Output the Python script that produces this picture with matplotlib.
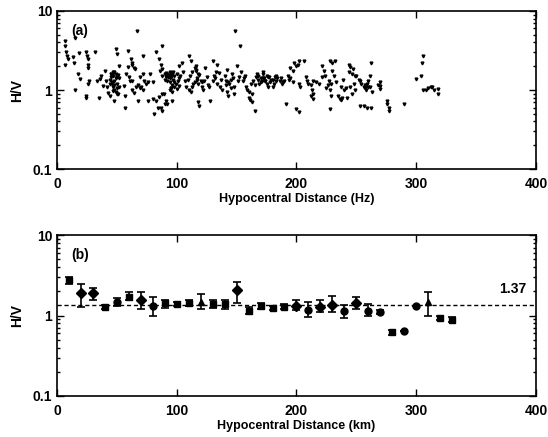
import numpy as np
import matplotlib
matplotlib.use("Agg")
import matplotlib.pyplot as plt
from matplotlib.ticker import FixedLocator, FixedFormatter, LogLocator, NullFormatter

# (a) individual H/V ratios vs hypocentral distance
dist_a = [6.6, 6.6, 7.5, 8, 7, 9, 15, 13.6, 14, 18.5, 15, 19, 17.7, 24.6, 25, 26, 26, 26,
          24, 24, 26, 27, 31.5, 33, 35, 35.7, 37, 38.5, 40, 41, 42, 44, 45, 47,
          45, 46, 47, 48, 49, 50, 51, 52, 46, 47, 48, 49, 50, 44, 43, 48, 50, 52,
          49.5, 50, 52, 48, 56, 57, 57, 59, 59, 58, 61, 60, 62, 63, 63, 64, 65, 63,
          63, 64, 66, 68, 69, 70, 72, 67, 71.6, 69, 72, 67.5, 73, 74, 76, 76, 78,
          80, 80, 81, 83, 84, 85.5, 88, 87, 87.5, 88, 83, 85.5, 87, 88, 86, 88,
          90, 91, 92, 94, 91, 94, 95, 96, 92, 90, 91, 90, 94, 95, 96, 98, 99, 101,
          102, 100, 102, 104, 105, 103, 102, 100, 93, 95, 97, 98, 96, 92, 89,
          107, 108, 110, 112, 114, 109, 111, 113, 115, 116, 117, 118, 118, 119,
          120, 121, 122, 110, 112, 116, 118, 121, 123, 125, 126, 128, 124, 127,
          130, 131, 133, 134, 136, 132, 135, 137, 138, 130, 134, 140, 141, 142,
          144, 145, 143, 146, 147, 148, 150, 151, 149, 152, 148, 153, 154, 155,
          156, 158, 157, 159, 160, 161, 162, 160, 163, 164, 165, 166, 167, 168,
          169, 170, 171, 165, 168, 172, 173, 174, 175, 176, 177, 178, 179, 175,
          172, 163,
          180, 181, 182, 183, 184, 180, 183, 190, 193, 194, 195, 197, 195, 197,
          198, 200, 201, 202, 206, 202, 203, 200, 202, 191, 208, 209, 210, 212,
          213, 214, 212, 214, 214, 216, 219, 221, 221, 223, 224, 227, 228, 229,
          228, 230, 232, 230, 231, 228, 235, 236, 237, 238, 237, 240, 241, 242,
          244, 245, 247, 244, 246, 249, 245, 246, 249, 248, 250, 252, 253, 254,
          256, 257, 258, 260, 260, 261, 262, 253, 256, 259, 262, 270, 270, 270,
          276, 276, 277, 277, 290, 300, 304, 305, 306, 306, 308, 310, 312, 313,
          315, 318, 318,
          # extra points in the dense clusters
          44, 46, 48, 50, 47, 49, 45, 51, 93, 95, 97, 94, 96, 92, 98, 95,
          115, 117, 119, 113, 116, 141, 143, 145, 142, 170, 172, 174, 176,
          186, 188, 187, 189, 226, 229, 225, 257, 259, 261, 263, 268, 233, 239]
hv_a = [4.2, 3.6, 3.0, 2.7, 2.1, 2.5, 4.5, 2.6, 2.2, 2.9, 1.0, 1.38, 1.6, 3.0, 2.7, 2.5, 2.1, 1.9,
        0.85, 0.79, 1.19, 1.31, 3.0, 1.3, 0.8, 1.38, 1.52, 1.13, 1.75, 1.3, 1.08, 1.19, 1.45, 1.67,
        1.6, 1.55, 1.5, 1.7, 1.6, 1.45, 1.55, 1.4, 1.2, 1.1, 1.0, 0.95, 0.9, 0.85, 0.92, 1.3, 1.2, 1.1,
        3.3, 2.85, 2.0, 0.73, 1.13, 0.85, 0.6, 3.1, 1.93, 1.6, 1.31, 1.45, 2.5, 2.2, 2.1, 1.9, 1.85, 1.31,
        1.0, 0.93, 1.1, 1.15, 1.05, 1.1, 1.0, 5.6, 2.7, 1.45, 1.6, 0.73, 1.3, 1.2, 1.25, 0.73, 1.6,
        1.25, 0.77, 0.5, 0.73, 0.6, 0.81, 0.89, 0.6, 0.55, 3.6, 3.0, 2.5, 2.1, 1.85, 1.75, 1.5,
        1.6, 1.65, 1.55, 1.7, 1.45, 1.4, 1.5, 1.6, 1.3, 1.35, 0.73, 0.67, 1.0, 1.05, 0.95, 1.1, 1.2, 1.3,
        1.13, 1.03, 2.0, 2.2, 1.67, 1.5, 1.4, 1.6, 1.55, 1.45, 1.7, 1.25, 0.73, 0.67, 0.9,
        1.3, 1.1, 1.0, 0.95, 1.2, 1.35, 1.5, 1.7, 1.9, 2.0, 1.4, 1.2, 0.7, 0.62,
        1.3, 1.1, 1.0, 2.7, 2.3, 1.8, 1.6, 1.25, 1.3, 1.45, 1.15, 0.72, 1.9, 1.1,
        1.3, 1.5, 1.7, 1.2, 1.1, 1.4, 1.65, 1.35, 1.0, 2.3, 2.1, 1.5, 1.3, 1.8,
        1.2, 1.05, 0.85, 1.6, 1.4, 1.1, 2.0, 1.3, 5.5, 1.45, 0.9, 3.6, 1.7, 1.3,
        1.4, 1.1, 1.5, 1.0, 0.95, 0.75, 1.2, 0.8, 0.7, 1.3, 0.55, 1.45, 1.6, 1.35,
        1.2, 1.4, 1.3, 1.15, 1.5, 1.7, 1.4, 1.3, 1.2, 1.1, 1.45, 1.25, 1.35, 1.5,
        1.6, 0.88,
        1.35, 1.2, 1.45, 1.3, 1.4, 1.1, 1.5, 1.3, 1.5, 1.35, 1.9, 1.75, 1.4, 1.25,
        2.2, 2.0, 2.1, 2.3, 2.3, 1.2, 1.08, 0.58, 0.52, 0.66, 1.45, 1.3, 1.2, 1.15,
        1.0, 0.9, 0.85, 0.78, 1.3, 1.25, 1.2, 1.45, 2.0, 1.75, 1.5, 1.3, 1.0, 0.85,
        2.3, 2.2, 2.3, 1.75, 1.5, 0.58, 0.85, 0.78, 0.75, 0.8, 1.1, 1.0, 1.05, 0.8,
        2.1, 1.95, 1.85, 1.67, 1.6, 1.5, 1.1, 0.9, 1.0, 1.2, 1.5, 1.35, 1.3, 1.2,
        1.1, 1.05, 1.0, 1.1, 1.3, 1.5, 2.2, 0.63, 0.62, 0.6, 0.6, 1.25, 1.13, 1.03,
        0.73, 0.67, 0.6, 0.55, 0.67, 1.38, 1.5, 2.2, 2.7, 1.0, 1.0, 1.05, 1.1, 1.08,
        1.0, 1.02, 0.9,
        1.35, 1.25, 1.15, 1.05, 0.98, 1.4, 1.6, 0.9, 1.45, 1.55, 1.35, 1.25, 1.15, 1.6, 1.5, 1.05,
        1.25, 1.35, 1.55, 1.1, 1.75, 1.15, 1.25, 1.35, 0.95, 1.25, 1.4, 1.3, 1.45,
        1.3, 1.2, 1.4, 1.25, 1.15, 1.2, 1.05, 1.15, 1.2, 1.1, 0.95, 1.15, 1.25, 1.35]

# (b) binned averages with error bars
dist_b = [10, 20, 30, 40, 50, 60, 70, 80, 90, 100, 110, 120, 130, 140, 150, 160, 170, 180,
          190, 200, 210, 220, 230, 240, 250, 260, 270, 280, 290, 300, 310, 320, 330]
hv_b = [2.73, 1.9, 1.9, 1.29, 1.49, 1.72, 1.54, 1.33, 1.42, 1.40, 1.42, 1.49, 1.40, 1.40, 2.05,
        1.15, 1.33, 1.25, 1.29, 1.33, 1.18, 1.29, 1.36, 1.13, 1.42, 1.15, 1.10, 0.62, 0.65, 1.33,
        1.47, 0.935, 0.89]
hv_b_lo = [2.45, 1.29, 1.54, 1.20, 1.30, 1.55, 1.22, 0.98, 1.25, 1.33, 1.30, 1.20, 1.25, 1.22, 1.45,
           1.05, 1.22, 1.18, 1.20, 1.18, 0.97, 1.10, 1.10, 0.93, 1.22, 0.98, 1.04, 0.58, 0.65, 1.33,
           1.00, 0.87, 0.83]
hv_b_hi = [3.05, 2.48, 2.19, 1.36, 1.65, 1.95, 1.95, 1.68, 1.55, 1.47, 1.55, 1.85, 1.55, 1.57, 2.60,
           1.28, 1.45, 1.33, 1.40, 1.55, 1.47, 1.55, 1.75, 1.37, 1.70, 1.38, 1.16, 0.66, 0.65, 1.33,
           1.95, 1.00, 0.95]
marker_b = ['s', 'D', 'D', 's', 'o', 's', 'D', 'o', 's', 's', 's', '^', 's', 's', 'D', 's', 's', 's',
            's', 'D', 'o', 'D', 'D', 'o', 'D', 'o', 'o', 's', 'o', 'o', '^', 's', 's']
mean_hv = 1.37

plt.rcParams['font.family'] = ['Liberation Sans', 'DejaVu Sans']
plt.rcParams['font.weight'] = 'bold'

fig = plt.figure(figsize=(5.48, 4.37), dpi=100)
ax1 = fig.add_axes([0.104, 0.613, 0.874, 0.362])
ax2 = fig.add_axes([0.104, 0.094, 0.874, 0.368])

ax1.plot(dist_a, hv_a, linestyle='none', marker='v', ms=2, color='black')

for d, h, lo, hi, m in zip(dist_b, hv_b, hv_b_lo, hv_b_hi, marker_b):
    ax2.errorbar([d], [h], yerr=[[h - lo], [hi - h]], fmt=m, ms=5, color='black',
                 ecolor='black', elinewidth=1.2, capsize=3, capthick=1.2)
ax2.axhline(mean_hv, color='black', lw=1, linestyle=(0, (3, 2)))
ax2.text(392, 1.75, '%.2f' % mean_hv, ha='right', va='bottom', fontsize=10, fontweight='bold')

for ax, lab, unit in [(ax1, '(a)', 'Hz'), (ax2, '(b)', 'km')]:
    ax.set_yscale('log')
    ax.set_xlim(0, 400)
    ax.set_ylim(0.1, 10)
    ax.xaxis.set_major_locator(FixedLocator([0, 100, 200, 300, 400]))
    ax.yaxis.set_major_locator(FixedLocator([0.1, 1, 10]))
    ax.yaxis.set_major_formatter(FixedFormatter(['0.1', '1', '10']))
    ax.yaxis.set_minor_locator(LogLocator(base=10, subs=np.arange(2, 10)))
    ax.yaxis.set_minor_formatter(NullFormatter())
    ax.tick_params(which='both', direction='in', top=True, right=True, labelsize=10, width=1)
    ax.tick_params(which='major', length=5)
    ax.tick_params(which='minor', length=2.5)
    ax.tick_params(axis='x', pad=6)
    for s in ax.spines.values():
        s.set_linewidth(1.2)
    ax.set_ylabel('H/V', fontsize=10, fontweight='bold', labelpad=6)
    ax.set_xlabel('Hypocentral Distance (%s)' % unit, fontsize=9, fontweight='bold', labelpad=1)
    ax.text(0.03, 0.92, lab, transform=ax.transAxes, fontsize=10, fontweight='bold',
            ha='left', va='top')

fig.savefig('out.png', dpi=100)
